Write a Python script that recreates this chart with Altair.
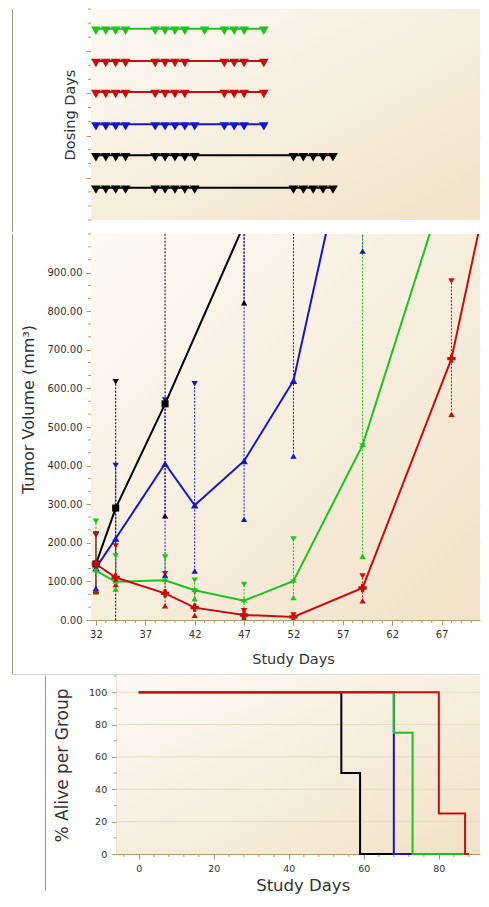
import math
import altair as alt
import pandas as pd

# ---------------- data ----------------
series_names = ["black", "blue", "green", "red"]
series_colors = ["#000000", "#1616c6", "#1fc21f", "#c50f0f"]

# Dosing days, rows from top to bottom
dose_row_group = ["green", "red", "red", "blue", "black", "black"]
dose_row_pos = [13.6, 11.3, 9.1, 6.8, 4.6, 2.3]
dose_days_green = [32, 33, 34, 35, 38, 39, 40, 41, 43, 45, 46, 47, 49]
dose_days_red = [32, 33, 34, 35, 38, 39, 40, 41, 45, 46, 47, 49]
dose_days_blue = [32, 33, 34, 35, 38, 39, 40, 41, 42, 45, 46, 47, 49]
dose_days_black = [32, 33, 34, 35, 38, 39, 40, 41, 42, 52, 53, 54, 55, 56]
dose_days_rows = [dose_days_green, dose_days_red, dose_days_red,
                  dose_days_blue, dose_days_black, dose_days_black]

# Tumor volume (mean, upper and lower bar ends)
black_days = [32, 34, 39, 47]
black_mean = [145, 290, 560, 1025]
black_hi = [222, 617, 1050, 1230]
black_lo = [78, -37, 270, 822]

blue_days = [32, 34, 39, 42, 47, 52, 59]
blue_mean = [135, 211, 405, 297, 412, 620, 1430]
blue_hi = [220, 400, 570, 612, 1060, 1100, 1900]
blue_lo = [82, 106, 116, 127, 261, 425, 956]

green_days = [32, 34, 39, 42, 47, 52, 59, 68]
green_mean = [128, 99, 103, 77, 50, 101, 453, 1177]
green_hi = [256, 166, 163, 103, 92, 210, 1100, 1400]
green_lo = [73, 80, 75, 55, 12, 58, 165, 1030]

red_days = [32, 34, 39, 42, 47, 52, 59, 68, 73]
red_mean = [145, 110, 69, 32, 13, 8, 83, 677, 1275]
red_hi = [222, 192, 120, 74, 24, 13, 114, 878, 1500]
red_lo = [74, 92, 37, 12, 5, 3, 50, 533, 1050]

# Survival (% alive per group)
surv_black_days = [0, 54, 59, 68]
surv_black_pct = [100, 50, 0, 0]
surv_blue_days = [0, 68, 73]
surv_blue_pct = [100, 0, 0]
surv_green_days = [0, 68, 73, 87]
surv_green_pct = [100, 75, 0, 0]
surv_red_days = [0, 80, 87, 88]
surv_red_pct = [100, 25, 0, 0]

# tick values (major = labelled / gridded, minor = short ticks)
dose_y_major = [3, 6, 9, 12]
dose_y_minor = [v for v in range(0, 16) if v not in dose_y_major]
vol_y_major = [0, 100, 200, 300, 400, 500, 600, 700, 800, 900]
vol_y_minor = [i * 100 / 3 for i in range(31) if i % 3 != 0] + [1000]
day_major = [32, 37, 42, 47, 52, 57, 62, 67]
day_minor = [d for d in range(32, 71) if d not in day_major]
surv_x_major = [0, 20, 40, 60, 80]
surv_x_minor = [d for d in range(-4, 89, 4) if d not in surv_x_major]
surv_y_major = [0, 20, 40, 60, 80, 100]
surv_y_grid = [20, 40, 60, 80, 100]
surv_y_minor = [10, 30, 50, 70, 90, 110]

# ---------------- marker shapes ----------------
pts = []
for k in range(12):
    ang = math.radians(-90 + 30 * k)
    r = 1.0 if k % 2 == 0 else 0.45
    pts.append(f"{r * math.cos(ang):.3f},{r * math.sin(ang):.3f}")
STAR6 = "M" + "L".join(pts) + "Z"
mean_shapes = ["square", "triangle-up", STAR6, "cross"]
mean_sizes = [50, 70, 140, 160]

# ---------------- tables ----------------
dose_rows = []
for r, (g, p, days) in enumerate(zip(dose_row_group, dose_row_pos, dose_days_rows)):
    for d in days:
        dose_rows.append({"row": r, "grp": g, "pos": p, "day": d})
dose_df = pd.DataFrame(dose_rows)

vol_rows = []
for name, days, mean, hi, lo in [
    ("black", black_days, black_mean, black_hi, black_lo),
    ("blue", blue_days, blue_mean, blue_hi, blue_lo),
    ("green", green_days, green_mean, green_hi, green_lo),
    ("red", red_days, red_mean, red_hi, red_lo),
]:
    for d, m, h, l in zip(days, mean, hi, lo):
        vol_rows.append({"grp": name, "day": d, "mean": m, "hi": h, "lo": l})
vol_df = pd.DataFrame(vol_rows)

surv_tables = {}
for name, days, pct in [
    ("black", surv_black_days, surv_black_pct),
    ("blue", surv_blue_days, surv_blue_pct),
    ("green", surv_green_days, surv_green_pct),
    ("red", surv_red_days, surv_red_pct),
]:
    surv_tables[name] = pd.DataFrame({"grp": name, "day": days, "pct": pct})

one = pd.DataFrame({"k": [0]})

# ---------------- style / geometry ----------------
FONT = "DejaVu Sans"
AXC = "#b39c6b"
GRIDC = "#e6dac3"
TXT = "#333333"
BORDER = "#a39584"
BORDER2 = "#d6d6d6"
BG = {"gradient": "linear", "x1": 0, "y1": 0, "x2": 1, "y2": 1,
      "stops": [{"offset": 0, "color": "#fcfaf4"}, {"offset": 1, "color": "#f2e2c8"}]}
W = 389          # plot width of every panel (shared origin)
BOT_X0 = 25.7    # survival plot starts further right inside its panel

common_axis = dict(domainColor=AXC, tickColor=AXC, gridColor=GRIDC, labelColor=TXT,
                   titleColor=TXT, labelFont=FONT, titleFont=FONT, tickSize=5,
                   titleFontWeight="normal")

color_enc = alt.Color("grp:N", scale=alt.Scale(domain=series_names, range=series_colors), legend=None)
day_scale = alt.Scale(domain=[31.5, 31.5 + W / 9.876], nice=False, zero=False)


def bg_layer(x0=0):
    return alt.Chart(one).mark_rect(fill=BG).encode(
        x=alt.value(x0), x2=alt.value("width"), y=alt.value(0), y2=alt.value("height"))


def minor_y(vals, y_enc_fn, x0=0):
    return alt.Chart(pd.DataFrame({"v": vals})).mark_rule(color=AXC, strokeWidth=1).encode(
        y=y_enc_fn("v"), x=alt.value(x0 - 3), x2=alt.value(x0))


def minor_x(vals, x_enc_fn, height):
    return alt.Chart(pd.DataFrame({"v": vals})).mark_rule(color=AXC, strokeWidth=1).encode(
        x=x_enc_fn("v"), y=alt.value(height), y2=alt.value(height + 3))


# ---------------- top: dosing days ----------------
dose_y_axis = alt.Axis(values=dose_y_major, labels=False, grid=True,
                       title="Dosing Days", titleX=-21, titleY=105.5, titleFontSize=14.5,
                       titleBaseline="middle", minExtent=83, maxExtent=83, **common_axis)
dose_y_scale = alt.Scale(domain=[0, 15], nice=False, zero=False)


def dxe(f="day"):
    return alt.X(f + ":Q", scale=day_scale, axis=None)


def dye(f="pos"):
    return alt.Y(f + ":Q", scale=dose_y_scale, axis=dose_y_axis)


top_border = alt.Chart(one).mark_rule(color=BORDER, strokeWidth=1).encode(
    x=alt.value(-78.5), y=alt.value(0), y2=alt.value(223))
dose_lines = alt.Chart(dose_df).mark_line(strokeWidth=2).encode(
    x=dxe(), y=dye(), detail="row:N", color=color_enc)
dose_pts = alt.Chart(dose_df).mark_point(shape="triangle-down", filled=True, size=95,
                                         opacity=1, yOffset=2).encode(
    x=dxe(), y=dye(), detail="row:N", color=color_enc)
top = alt.layer(bg_layer(), top_border, minor_y(dose_y_minor, dye), dose_lines, dose_pts
                ).properties(width=W, height=211)

# ---------------- middle: tumor volume ----------------
vol_y_axis = alt.Axis(values=vol_y_major, format=".2f", grid=True,
                      title="Tumor Volume (mm³)", titleX=-63, titleY=175, titleFontSize=16,
                      titleBaseline="middle", labelFontSize=10, labelPadding=4,
                      minExtent=83, maxExtent=83, **common_axis)
vol_x_axis = alt.Axis(values=day_major, grid=False, title="Study Days", titleFontSize=14.5,
                      titleX=202, titleY=39, titleBaseline="middle", labelFontSize=10,
                      labelPadding=4, **common_axis)
vol_y_scale = alt.Scale(domain=[0, 1000], nice=False, zero=False)


def vx(f="day"):
    return alt.X(f + ":Q", scale=day_scale, axis=vol_x_axis)


def vy(f):
    return alt.Y(f + ":Q", scale=vol_y_scale, axis=vol_y_axis)


mid_border_v = alt.Chart(one).mark_rule(color=BORDER, strokeWidth=1).encode(
    x=alt.value(-78.5), y=alt.value(0), y2=alt.value(440.5))
mid_border_h = alt.Chart(one).mark_rule(color=BORDER2, strokeWidth=1).encode(
    x=alt.value(-78.5), x2=alt.value(W - 0.5), y=alt.value(440.5))
err_bars = alt.Chart(vol_df).mark_rule(strokeWidth=1, strokeDash=[2, 1.5], clip=True).encode(
    x=vx(), y=vy("lo"), y2="hi:Q", color=color_enc)
err_hi = alt.Chart(vol_df).mark_point(shape="triangle-down", filled=True, size=40, opacity=1,
                                      clip=True).encode(x=vx(), y=vy("hi"), color=color_enc)
err_lo = alt.Chart(vol_df).mark_point(shape="triangle-up", filled=True, size=40, opacity=1,
                                      clip=True).encode(x=vx(), y=vy("lo"), color=color_enc)
vol_lines = alt.Chart(vol_df).mark_line(strokeWidth=2, clip=True).encode(
    x=vx(), y=vy("mean"), color=color_enc)
vol_means = alt.Chart(vol_df).mark_point(filled=True, opacity=1, clip=True).encode(
    x=vx(), y=vy("mean"), color=color_enc,
    shape=alt.Shape("grp:N", scale=alt.Scale(domain=series_names, range=mean_shapes), legend=None),
    size=alt.Size("grp:N", scale=alt.Scale(domain=series_names, range=mean_sizes), legend=None))
middle = alt.layer(bg_layer(), mid_border_v, mid_border_h,
                   minor_y(vol_y_minor, vy), minor_x(day_minor, vx, 386),
                   err_bars, err_hi, err_lo, vol_lines, vol_means
                   ).properties(width=W, height=386)

# ---------------- bottom: survival ----------------
surv_x_axis = alt.Axis(values=surv_x_major, grid=False, title="Study Days", titleFontSize=16.5,
                       titleX=BOT_X0 + 186, titleY=31, titleBaseline="middle",
                       labelFontSize=9.5, labelPadding=4, **common_axis)
surv_y_axis = alt.Axis(values=surv_y_major, grid=False, offset=-BOT_X0,
                       title="% Alive per Group", titleX=-54, titleY=89, titleFontSize=17,
                       titleBaseline="middle", labelFontSize=9.5, labelPadding=5,
                       minExtent=83, maxExtent=83, **common_axis)
surv_x_scale = alt.Scale(domain=[-5.9, -5.9 + (W - BOT_X0) / 3.75], range=[BOT_X0, W],
                         nice=False, zero=False)
surv_y_scale = alt.Scale(domain=[0, 110], nice=False, zero=False)


def sx(f="day"):
    return alt.X(f + ":Q", scale=surv_x_scale, axis=surv_x_axis)


def sy(f="pct"):
    return alt.Y(f + ":Q", scale=surv_y_scale, axis=surv_y_axis)


bot_border = alt.Chart(one).mark_rule(color=BORDER, strokeWidth=1).encode(
    x=alt.value(-45.5), y=alt.value(-0.5), y2=alt.value(215))
surv_grid = alt.Chart(pd.DataFrame({"v": surv_y_grid})).mark_rule(color=GRIDC, strokeWidth=1).encode(
    y=sy("v"), x=alt.value(BOT_X0), x2=alt.value(W))
surv_layers = [
    alt.Chart(surv_tables[name]).mark_line(interpolate="step-after", strokeWidth=2).encode(
        x=sx(), y=sy(), color=color_enc)
    for name in series_names
]
bottom = alt.layer(bg_layer(BOT_X0), bot_border, surv_grid, minor_y(surv_y_minor, sy, BOT_X0),
                   minor_x(surv_x_minor, sx, 178), *surv_layers
                   ).properties(width=W, height=178)

chart = alt.vconcat(top, middle, bottom, spacing=0).resolve_scale(
    x="independent", y="independent"
).properties(padding=0, background="white").configure_view(strokeWidth=0)

chart.save("out.html", embed_options={"renderer": "svg", "actions": False})
